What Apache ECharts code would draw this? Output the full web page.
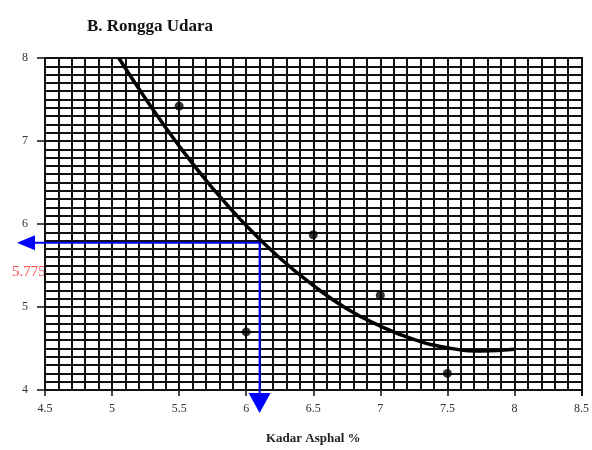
<!DOCTYPE html>
<html>
<head>
<meta charset="utf-8">
<script src="https://cdn.jsdelivr.net/npm/echarts@6/dist/echarts.min.js"></script>
<style>html,body{margin:0;padding:0;background:#fff;}#c{width:592px;height:450px;}</style>
</head>
<body>
<div id="c"></div>
<script>
// Data
var chartTitle = 'B. Rongga Udara';
var xAxisName = 'Kadar Asphal %';
var xRange = [4.5, 8.5];
var yRange = [4, 8];
// Measured points (Kadar Asphal %, Rongga Udara)
var pointX = [5.5, 6.0, 6.5, 7.0, 7.5];
var pointY = [7.42, 4.70, 5.87, 5.14, 4.20];
// Trend curve
var curveX = [5.05, 5.25, 5.5, 5.75, 6.0, 6.25, 6.5, 6.75, 7.0, 7.25, 7.5, 7.75, 8.0];
var curveY = [8.00, 7.51, 6.94, 6.43, 5.98, 5.59, 5.26, 4.98, 4.77, 4.61, 4.51, 4.47, 4.49];
// Read-off point for the arrows
var readX = [6.1];
var readY = [5.775];
var readLabel = '5.775';

var points = pointX.map(function (x, i) { return [x, pointY[i]]; });
var curve = curveX.map(function (x, i) { return [x, curveY[i]]; });
var readPts = readX.map(function (x, i) { return [x, readY[i]]; });

var serif = '"Liberation Serif", "DejaVu Serif", serif';
var chart = echarts.init(document.getElementById('c'), null, { renderer: 'canvas' });
chart.setOption({
  backgroundColor: '#ffffff',
  animation: false,
  title: {
    text: chartTitle,
    left: 82, top: 13,
    textStyle: { fontFamily: serif, fontWeight: 'bold', fontSize: 17, color: '#111' }
  },
  grid: { left: 45, right: 10, top: 58, bottom: 55, containLabel: false },
  xAxis: {
    type: 'value', min: xRange[0], max: xRange[1], interval: 0.5,
    name: xAxisName, nameLocation: 'middle', nameGap: 42,
    nameTextStyle: { fontFamily: serif, fontWeight: 'bold', fontSize: 13, color: '#222' },
    axisLine: { show: true, onZero: false, lineStyle: { color: '#111', width: 2 } },
    axisTick: { show: true, inside: false, length: 6, lineStyle: { color: '#111', width: 1.5 } },
    axisLabel: { fontFamily: serif, fontSize: 12, color: '#333', margin: 13 },
    splitLine: { show: true, lineStyle: { color: '#111', width: 2 } },
    minorTick: { show: false, splitNumber: 5 },
    minorSplitLine: { show: true, lineStyle: { color: '#111', width: 2 } }
  },
  yAxis: {
    type: 'value', min: yRange[0], max: yRange[1], interval: 1,
    axisLine: { show: true, onZero: false, lineStyle: { color: '#111', width: 2 } },
    axisTick: { show: true, inside: false, length: 8, lineStyle: { color: '#111', width: 1.5 } },
    axisLabel: { fontFamily: serif, fontSize: 12, color: '#333', margin: 17 },
    splitLine: { show: true, lineStyle: { color: '#111', width: 2 } },
    minorTick: { show: false, splitNumber: 10 },
    minorSplitLine: { show: true, lineStyle: { color: '#111', width: 2 } }
  },
  graphic: [{
    type: 'text', left: 12, top: 265, z: -1,
    style: { text: readLabel, fontFamily: serif, fontSize: 15, fill: '#ff4a4a' }
  }, {
    type: 'rect', left: 592 - 11, top: 57, z: 5,
    shape: { width: 2, height: 339 }, style: { fill: '#111' }
  }],
  series: [{
    type: 'line', data: curve, smooth: true, symbol: 'none',
    lineStyle: { color: '#000', width: 3.5 }, z: 3
  }, {
    type: 'scatter', data: points, symbol: 'circle', symbolSize: 9,
    itemStyle: { color: '#000' }, z: 4
  }, {
    type: 'custom', data: readPts, z: 6, clip: false,
    renderItem: function (params, api) {
      var p = api.coord([api.value(0), api.value(1)]);
      var left = api.coord([xRange[0], api.value(1)]);
      var bottom = api.coord([api.value(0), yRange[0]]);
      var blue = '#0000ff';
      return {
        type: 'group',
        children: [
          { type: 'line', shape: { x1: p[0], y1: p[1], x2: left[0] - 12, y2: p[1] },
            style: { stroke: blue, lineWidth: 2 } },
          { type: 'polygon', shape: { points: [[left[0] - 28, p[1]], [left[0] - 10, p[1] - 7.5], [left[0] - 10, p[1] + 7.5]] },
            style: { fill: blue } },
          { type: 'line', shape: { x1: p[0], y1: p[1], x2: p[0], y2: bottom[1] + 5 },
            style: { stroke: blue, lineWidth: 2 } },
          { type: 'polygon', shape: { points: [[p[0] - 11, bottom[1] + 3], [p[0] + 11, bottom[1] + 3], [p[0], bottom[1] + 23]] },
            style: { fill: blue } }
        ]
      };
    }
  }]
});
</script>
</body>
</html>
